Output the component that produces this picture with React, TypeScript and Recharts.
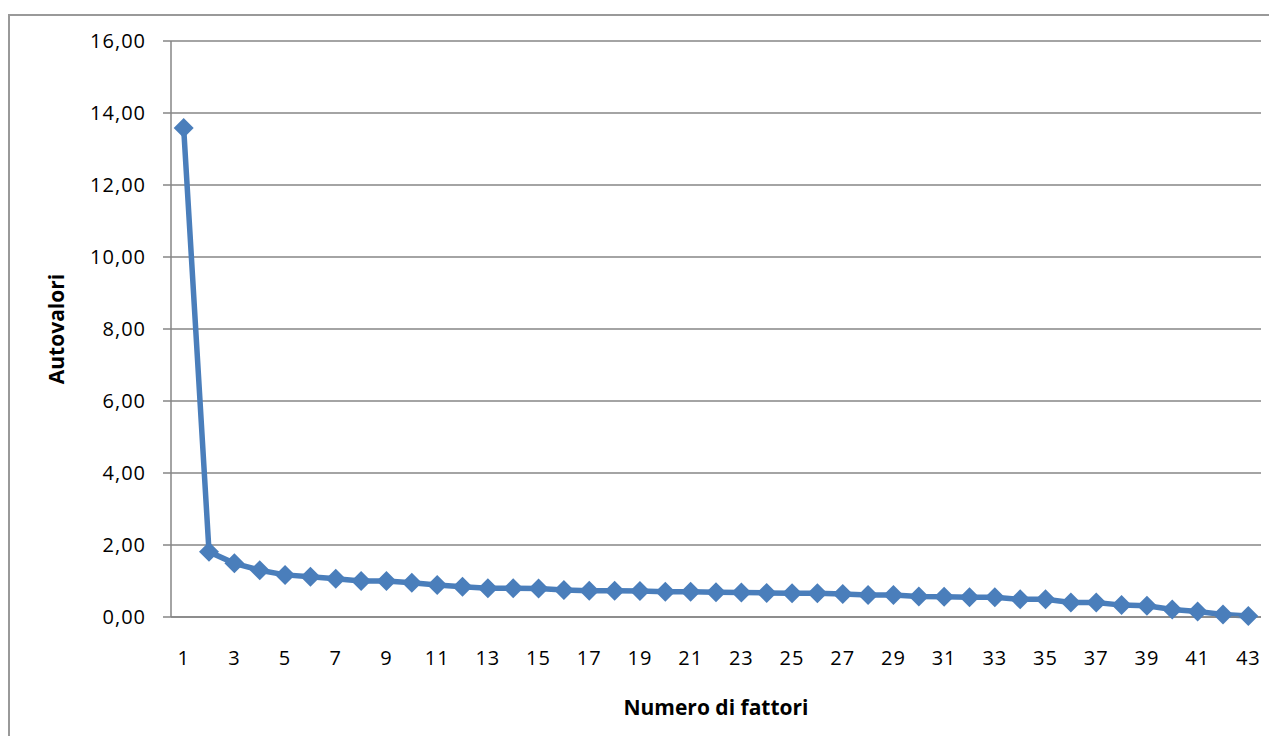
import { LineChart, Line, XAxis, YAxis, CartesianGrid, Label } from 'recharts'

// scree plot: eigenvalue per factor
const EIGENVALUES = [
  13.58, 1.81, 1.49, 1.30, 1.17, 1.12, 1.06, 1.00, 1.00, 0.95,
  0.89, 0.84, 0.80, 0.80, 0.79, 0.75, 0.73, 0.73, 0.72, 0.70,
  0.70, 0.69, 0.68, 0.67, 0.66, 0.66, 0.64, 0.61, 0.61, 0.57,
  0.56, 0.55, 0.55, 0.49, 0.49, 0.40, 0.40, 0.33, 0.31, 0.21,
  0.15, 0.07, 0.03,
]
const FACTORS = EIGENVALUES.map((_, i) => i + 1)
const X_TICKS = [1, 3, 5, 7, 9, 11, 13, 15, 17, 19, 21, 23, 25, 27, 29, 31, 33, 35, 37, 39, 41, 43]
const Y_TICKS = [0, 2, 4, 6, 8, 10, 12, 14, 16]

const BLUE = '#4a7ebb'
const AXIS = '#868686'
const FONT = '"Open Sans", sans-serif'

const tickStyle = { fontSize: 20, fill: '#000', fontFamily: FONT, letterSpacing: 1 }
const titleStyle = { fontSize: 21, fill: '#000', fontFamily: FONT, fontWeight: 700, textAnchor: 'middle' as const }

const data = FACTORS.map((n, i) => ({ n, v: EIGENVALUES[i] }))
// tick marks sit between categories, like the original
const BOUNDS = [...FACTORS.map((n) => n - 0.5), FACTORS[FACTORS.length - 1] + 0.5]
const DOMAIN: [number, number] = [BOUNDS[0], BOUNDS[BOUNDS.length - 1]]

const Diamond = (props: any) => {
  const { cx, cy } = props
  if (cx == null || cy == null) return null
  const r = 10
  return <path d={`M${cx},${cy - r}L${cx + r},${cy}L${cx},${cy + r}L${cx - r},${cy}Z`} fill={BLUE} />
}

export default function App() {
  return (
    <div style={{ position: 'relative', width: 1269, height: 728, overflow: 'hidden' }}>
      <div style={{ position: 'absolute', left: 0, top: 6, width: 1400, height: 900, border: `2px solid #999`, boxSizing: 'border-box' }} />
      <div style={{ position: 'absolute', left: 0, top: 0 }}>
        <LineChart width={1269} height={728} data={data} margin={{ top: 33, right: 16, bottom: 0, left: 0 }}>
          <CartesianGrid vertical={false} stroke={AXIS} strokeWidth={1.5} />
          <XAxis
            dataKey="n"
            type="number"
            domain={DOMAIN}
            ticks={BOUNDS}
            interval={0}
            tick={false}
            tickSize={7}
            height={20}
            stroke={AXIS}
            strokeWidth={1.5}
          />
          <XAxis
            xAxisId="labels"
            dataKey="n"
            type="number"
            domain={DOMAIN}
            ticks={X_TICKS}
            interval={0}
            axisLine={false}
            tickLine={false}
            tickSize={6}
            tickMargin={8}
            height={99}
            tick={tickStyle}
          >
            <Label value="Numero di fattori" position="insideBottom" offset={21} style={titleStyle} />
          </XAxis>
          <YAxis
            domain={[0, 16]}
            ticks={Y_TICKS}
            interval={0}
            width={163}
            tickSize={8}
            tickMargin={17}
            stroke={AXIS}
            strokeWidth={1.5}
            tick={tickStyle}
            tickFormatter={(v) => Number(v).toFixed(2).replace('.', ',')}
          >
            <Label value="Autovalori" angle={-90} position="insideLeft" offset={49} style={titleStyle} />
          </YAxis>
          <Line
            type="linear"
            dataKey="v"
            stroke={BLUE}
            strokeWidth={5.5}
            dot={<Diamond />}
            activeDot={false}
            isAnimationActive={false}
          />
        </LineChart>
      </div>
    </div>
  )
}
